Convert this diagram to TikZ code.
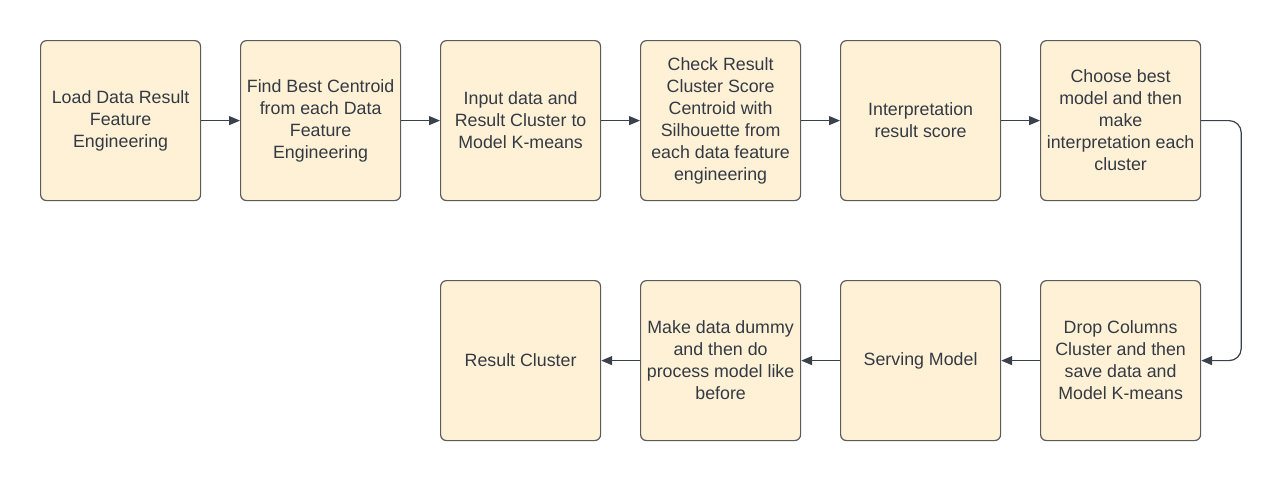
\documentclass[tikz,border=0pt]{standalone}
\usepackage{fontspec}
\setmainfont{Liberation Sans}
\usetikzlibrary{arrows.meta}
\definecolor{boxfill}{HTML}{FFF1D6}
\definecolor{boxline}{HTML}{5B5B5B}
\definecolor{txt}{HTML}{333A44}
\definecolor{arr}{HTML}{3A414B}
\tikzset{
  stepbox/.style={draw=boxline, fill=boxfill, line width=1.2pt, rounded corners=6pt,
    minimum width=160pt, minimum height=160pt, inner sep=0pt, align=center,
    text=txt, font=\fontsize{17.8pt}{22pt}\selectfont, anchor=north west},
  conn/.style={draw=arr, line width=1.2pt, -{Triangle[length=11pt,width=9pt]}},
}
\begin{document}
\begin{tikzpicture}[x=1pt,y=-1pt]
\useasboundingbox (0,0) rectangle (1281,480);
\node[stepbox] (n1) at (40,40) {Load Data Result\\Feature\\Engineering};
\node[stepbox] (n2) at (240,40) {Find Best Centroid\\from each Data\\Feature\\Engineering};
\node[stepbox] (n3) at (440,40) {Input data and\\Result Cluster to\\Model K-means};
\node[stepbox] (n4) at (640,40) {Check Result\\Cluster Score\\Centroid with\\Silhouette from\\each data feature\\engineering};
\node[stepbox] (n5) at (840,40) {Interpretation\\result score};
\node[stepbox] (n6) at (1040,40) {Choose best\\model and then\\make\\interpretation each\\cluster};
\node[stepbox] (n7) at (1040,280) {Drop Columns\\Cluster and then\\save data and\\Model K-means};
\node[stepbox] (n8) at (840,280) {Serving Model};
\node[stepbox] (n9) at (640,280) {Make data dummy\\and then do\\process model like\\before};
\node[stepbox] (n10) at (440,280) {Result Cluster};
\draw[conn] (n1.east) -- (n2.west);
\draw[conn] (n2.east) -- (n3.west);
\draw[conn] (n3.east) -- (n4.west);
\draw[conn] (n4.east) -- (n5.west);
\draw[conn] (n5.east) -- (n6.west);
\draw[conn, rounded corners=12pt] (n6.east) -- ++(40,0) |- (n7.east);
\draw[conn] (n7.west) -- (n8.east);
\draw[conn] (n8.west) -- (n9.east);
\draw[conn] (n9.west) -- (n10.east);
\end{tikzpicture}
\end{document}
